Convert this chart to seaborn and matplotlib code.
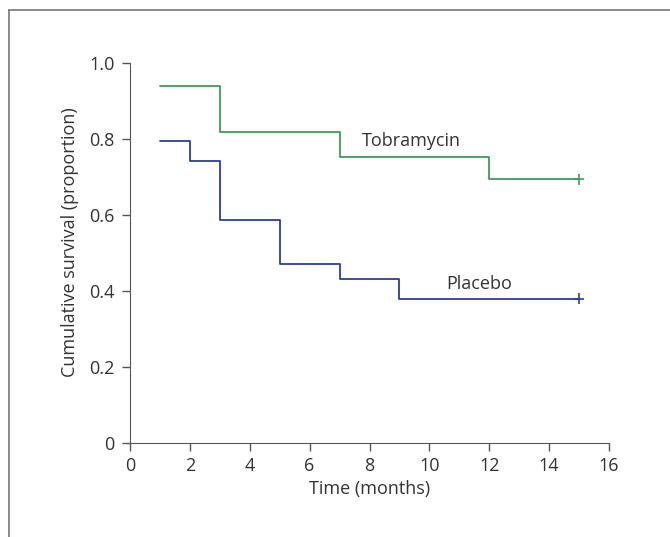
import pandas as pd
import seaborn as sns
import matplotlib.pyplot as plt
from matplotlib.lines import Line2D

# ── Data ──────────────────────────────────────────────────────────────────────
TOBRA_TIME = [1, 3, 7, 12, 15]
TOBRA_SURV = [0.940, 0.817, 0.753, 0.694, 0.694]
PLACEBO_TIME = [1, 2, 3, 5, 7, 9, 15]
PLACEBO_SURV = [0.795, 0.742, 0.586, 0.471, 0.432, 0.380, 0.380]
GROUPS = ["Tobramycin", "Placebo"]
X_TICKS = [0, 2, 4, 6, 8, 10, 12, 14, 16]
Y_TICKS = [0, 0.2, 0.4, 0.6, 0.8, 1.0]
Y_TICK_LABELS = ["0", "0.2", "0.4", "0.6", "0.8", "1.0"]

COLORS = {"Tobramycin": "#3d9a5c", "Placebo": "#2d3f98"}
TEXT = "#333333"
FS = 13

df = pd.concat([
    pd.DataFrame({"time": TOBRA_TIME, "surv": TOBRA_SURV, "group": GROUPS[0]}),
    pd.DataFrame({"time": PLACEBO_TIME, "surv": PLACEBO_SURV, "group": GROUPS[1]}),
])

sns.set_style("ticks")
plt.rcParams["font.family"] = ["Open Sans", "DejaVu Sans"]

fig = plt.figure(figsize=(6.7, 5.37), dpi=100)
ax = fig.add_axes([0.194, 0.175, 0.715, 0.708])

sns.lineplot(data=df, x="time", y="surv", hue="group", palette=COLORS,
             drawstyle="steps-post", linewidth=1.3, legend=False, ax=ax,
             estimator=None)

# censoring marks at last time point
last = df.groupby("group").tail(1)
sns.scatterplot(data=last, x="time", y="surv", hue="group", palette=COLORS,
                marker="+", s=60, linewidth=1.2, legend=False, ax=ax)

ax.text(9.4, 0.770, "Tobramycin", ha="center", va="bottom", fontsize=FS, color=TEXT)
ax.text(11.67, 0.394, "Placebo", ha="center", va="bottom", fontsize=FS, color=TEXT)

ax.set_xlim(0, 16)
ax.set_ylim(0, 1.0)
ax.set_xticks(X_TICKS)
ax.set_yticks(Y_TICKS)
ax.set_yticklabels(Y_TICK_LABELS)
ax.set_xlabel("Time (months)", fontsize=FS, color=TEXT, labelpad=4)
ax.set_ylabel("Cumulative survival (proportion)", fontsize=FS, color=TEXT)
ax.yaxis.set_label_coords(-0.106, 0.529)
ax.tick_params(axis="both", labelsize=FS, labelcolor=TEXT, color="#555555",
               length=6, width=1, direction="out")
ax.tick_params(axis="y", pad=5)
ax.tick_params(axis="x", pad=4)
ax.spines["left"].set_color("#555555")
ax.spines["bottom"].set_color("#555555")
sns.despine(ax=ax)

# outer frame (top and left visible, rest cropped)
fig.add_artist(Line2D([9 / 670, 1.0], [1 - 10 / 537, 1 - 10 / 537],
                      transform=fig.transFigure, color="#777777", linewidth=1.2))
fig.add_artist(Line2D([9 / 670, 9 / 670], [0, 1 - 10 / 537],
                      transform=fig.transFigure, color="#777777", linewidth=1.2))

fig.savefig("out.png", dpi=100)
